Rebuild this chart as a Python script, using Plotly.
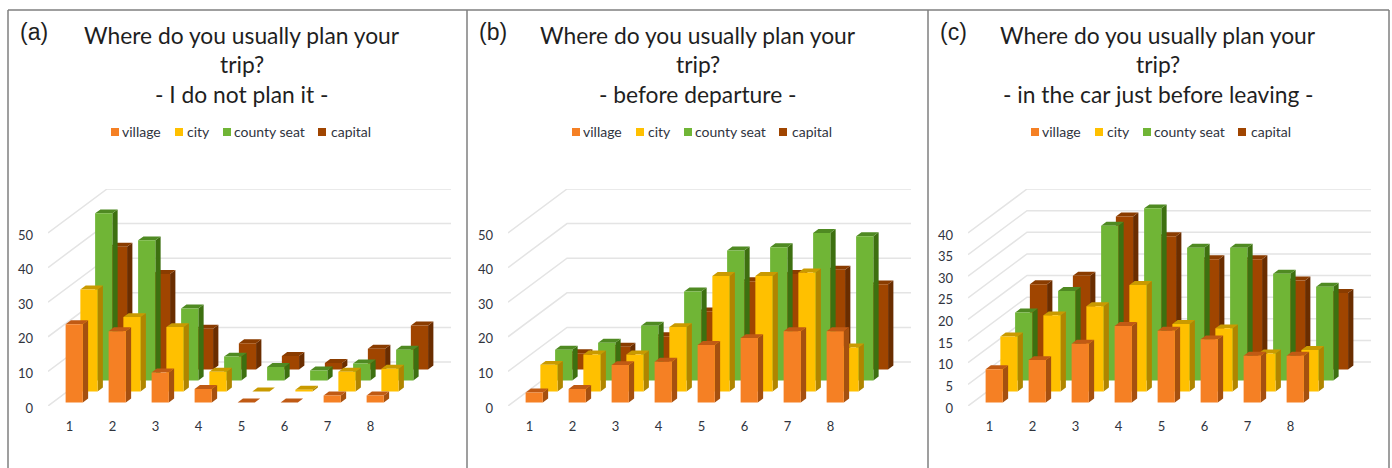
import plotly.graph_objects as go

WIDTH, HEIGHT = 1392, 468

categories = [1, 2, 3, 4, 5, 6, 7, 8]
series_names = ["village", "city", "county seat", "capital"]

# Survey shares per category, one list per settlement type
a_village = [22.6, 20.6, 8.7, 3.9, 0, 0, 2, 2]
a_city = [29.5, 21.5, 18.6, 5.7, 0, 0.5, 5.7, 6.6]
a_county = [48.3, 40.5, 20.8, 6.9, 3.9, 2.9, 4.9, 8.9]
a_capital = [35.5, 27.6, 11.8, 7.6, 3.9, 1.9, 6, 12.7]

b_village = [2.9, 3.9, 10.8, 11.8, 16.6, 18.6, 20.6, 20.6]
b_city = [7.7, 10.7, 10.7, 18.6, 33.4, 33.4, 34.4, 12.7]
b_county = [8.9, 10.9, 15.8, 25.7, 37.6, 38.5, 42.6, 41.7]
b_capital = [4.7, 6.6, 9.6, 16.8, 25.5, 27.6, 28.8, 24.6]

c_village = [7.7, 9.8, 13.6, 17.7, 16.6, 14.6, 10.8, 10.8]
c_city = [12.7, 17.6, 19.7, 24.6, 15.6, 14.6, 8.8, 9.6]
c_county = [15.7, 20.7, 35.8, 39.8, 30.7, 30.7, 24.7, 21.7]
c_capital = [19.7, 21.7, 35.4, 30.8, 25.5, 25.5, 20.6, 17.7]

a_ticks = [0, 10, 20, 30, 40, 50]
b_ticks = [0, 10, 20, 30, 40, 50]
c_ticks = [0, 5, 10, 15, 20, 25, 30, 35, 40]

front_colors = ["#F58024", "#FFC000", "#70B536", "#A04500"]
top_colors = ["#C05A14", "#C99A00", "#4F8A22", "#8A3C00"]
side_colors = ["#A5500F", "#B08500", "#3D7010", "#6A2D00"]

GRID = "#E4E4E4"
FRAME = "#7F7F7F"
TEXT = "#30343E"
FONT = "Lato"

# Pixel layout of the oblique projection
FLOOR_Y = 406
TOP_Y = 189
CAT_STEP = 43
WALL_DX, WALL_DY = 59, 44
BAR_FRAC = 0.40
SLOT_DEPTH = 1 / 4
BAR_DEPTH = 0.36 * SLOT_DEPTH
SLOT_GAP = 0.32 * SLOT_DEPTH

panels = [
    dict(left=48, label="(a)", label_x=18, subtitle="- I do not plan it -", title_x=242,
         values=[a_village, a_city, a_county, a_capital], ticks=a_ticks, unit=3.46, legend_shift=0),
    dict(left=508, label="(b)", label_x=477, subtitle="- before departure -", title_x=698,
         values=[b_village, b_city, b_county, b_capital], ticks=b_ticks, unit=3.46, legend_shift=461),
    dict(left=968, label="(c)", label_x=938, subtitle="- in the car just before leaving -", title_x=1158,
         values=[c_village, c_city, c_county, c_capital], ticks=c_ticks, unit=4.325, legend_shift=920),
]

legend_layout = [(111, 120), (175, 185), (223, 232), (318, 329)]


def px_x(x):
    return x / WIDTH


def px_y(y):
    return 1 - y / HEIGHT


def face_path(polygons):
    xs, ys = [], []
    for poly in polygons:
        for px, py in poly:
            xs.append(px)
            ys.append(py)
        xs.append(poly[0][0])
        ys.append(poly[0][1])
        xs.append(None)
        ys.append(None)
    return xs, ys


def add_face(fig, polygons, color, xa, ya):
    xs, ys = face_path(polygons)
    fig.add_trace(go.Scatter(
        x=xs, y=ys, mode="lines", fill="toself", fillcolor=color,
        line=dict(width=0, color=color), hoverinfo="skip", showlegend=False,
        xaxis=xa, yaxis=ya,
    ))


fig = go.Figure()
layout_axes = {}

for idx, p in enumerate(panels):
    suffix = "" if idx == 0 else str(idx + 1)
    xa, ya = "x" + suffix, "y" + suffix
    kx = WALL_DX / CAT_STEP        # category units per full wall depth
    ky = WALL_DY / p["unit"]       # value units per full wall depth
    right = p["left"] + 8 * CAT_STEP + WALL_DX
    top_value = (FLOOR_Y - TOP_Y) / p["unit"]

    layout_axes["xaxis" + suffix] = dict(
        domain=[px_x(p["left"]), px_x(right)], range=[0.5, 8.5 + kx], anchor=ya,
        tickmode="array", tickvals=categories, ticktext=[str(c) for c in categories],
        showgrid=False, zeroline=False, showline=False, ticks="", ticklabelstandoff=11,
        automargin=False, tickfont=dict(family=FONT, size=13, color=TEXT),
    )
    layout_axes["yaxis" + suffix] = dict(
        domain=[px_y(FLOOR_Y), px_y(TOP_Y)], range=[0, top_value], anchor=xa,
        tickmode="array", tickvals=p["ticks"], ticktext=[str(t) for t in p["ticks"]],
        showgrid=False, zeroline=False, showline=False, ticks="", ticklabelstandoff=14,
        ticklabelshift=2, automargin=False, tickfont=dict(family=FONT, size=13, color=TEXT),
    )

    # Wall and floor gridlines: a diagonal up the side wall, then along the back wall
    gx, gy = [], []
    for t in p["ticks"]:
        gx += [0.5, 0.5 + kx, 8.5 + kx, None]
        gy += [t, t + ky, t + ky, None]
    fig.add_trace(go.Scatter(
        x=gx, y=gy, mode="lines", line=dict(color=GRID, width=1.5),
        hoverinfo="skip", showlegend=False, xaxis=xa, yaxis=ya,
    ))

    # Rear series first so nearer bars cover it
    half = BAR_FRAC / 2
    for s in reversed(range(4)):
        d0 = s * SLOT_DEPTH + SLOT_GAP
        d1 = d0 + BAR_DEPTH
        fronts, tops, sides = [], [], []
        for cat, v in zip(categories, p["values"][s]):
            x0 = cat - half + d0 * kx
            x1 = cat + half + d0 * kx
            y0 = d0 * ky
            y1 = v + d0 * ky
            sx = (d1 - d0) * kx
            sy = (d1 - d0) * ky
            fronts.append([(x0, y0), (x1, y0), (x1, y1), (x0, y1)])
            tops.append([(x0, y1), (x1, y1), (x1 + sx, y1 + sy), (x0 + sx, y1 + sy)])
            sides.append([(x1, y0), (x1 + sx, y0 + sy), (x1 + sx, y1 + sy), (x1, y1)])
        add_face(fig, sides, side_colors[s], xa, ya)
        add_face(fig, tops, top_colors[s], xa, ya)
        add_face(fig, fronts, front_colors[s], xa, ya)

annotations = []
shapes = []


def paper_text(x, y, text, size, anchor="center", color="#1F1F1F", family=FONT):
    annotations.append(dict(
        xref="paper", yref="paper", x=px_x(x), y=px_y(y), text=text, showarrow=False,
        xanchor=anchor, yanchor="middle", font=dict(family=family, size=size, color=color),
    ))


for p in panels:
    paper_text(p["title_x"], 35, "Where do you usually plan your", 22.8)
    paper_text(p["title_x"], 64, "trip?", 22.8)
    paper_text(p["title_x"], 94, p["subtitle"], 22.8)
    paper_text(p["label_x"], 32, p["label"], 23, anchor="left", family="Liberation Sans")
    for s, name in enumerate(series_names):
        sw, tx = legend_layout[s]
        sw += p["legend_shift"]
        tx += p["legend_shift"]
        shapes.append(dict(
            type="rect", xref="paper", yref="paper", layer="above",
            x0=px_x(sw), x1=px_x(sw + 8), y0=px_y(136), y1=px_y(128),
            fillcolor=front_colors[s], line=dict(width=0),
        ))
        paper_text(tx, 131, name, 14, anchor="left", color=TEXT)

# Panel frame
for x in (8, 467, 928, 1389):
    shapes.append(dict(
        type="line", xref="paper", yref="paper", x0=px_x(x), x1=px_x(x), y0=0, y1=px_y(10),
        line=dict(color=FRAME, width=1.5),
    ))
shapes.append(dict(
    type="line", xref="paper", yref="paper", x0=px_x(8), x1=px_x(1389), y0=px_y(10), y1=px_y(10),
    line=dict(color=FRAME, width=1.5),
))

fig.update_layout(
    width=WIDTH, height=HEIGHT, autosize=False,
    margin=dict(l=0, r=0, t=0, b=0),
    paper_bgcolor="#FFFFFF", plot_bgcolor="rgba(0,0,0,0)",
    showlegend=False, annotations=annotations, shapes=shapes,
    **layout_axes,
)

fig.write_html("out.html", config=dict(displayModeBar=False))
